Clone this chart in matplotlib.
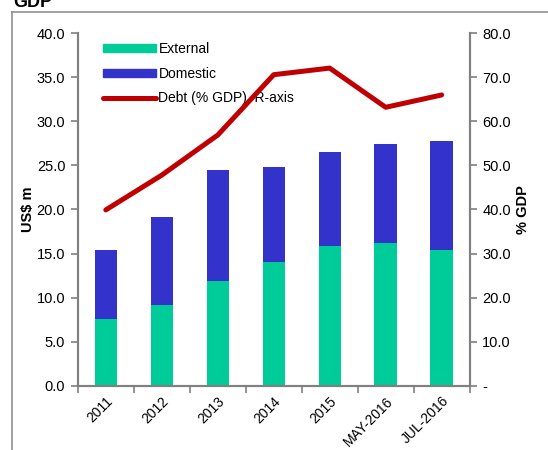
import matplotlib
matplotlib.use("Agg")
import matplotlib.pyplot as plt
from matplotlib.lines import Line2D
from matplotlib.ticker import FuncFormatter

plt.rcParams['font.family'] = ['Liberation Sans', 'DejaVu Sans']

periods = ["2011", "2012", "2013", "2014", "2015", "MAY-2016", "JUL-2016"]
external = [7.6, 9.2, 11.9, 14.0, 15.8, 16.2, 15.4]
total = [15.4, 19.1, 24.5, 24.8, 26.5, 27.4, 27.8]
domestic = [t - e for t, e in zip(total, external)]
debt_gdp = [39.9, 47.8, 56.9, 70.6, 72.1, 63.2, 66.0]

grey = "#808080"

fig = plt.figure(figsize=(5.48, 4.5), dpi=100)
ax = fig.add_axes([0.142, 0.143, 0.715, 0.783])
ax2 = ax.twinx()

x = range(len(periods))
ax.bar(x, external, width=0.4, color="#00CC99", label="External", zorder=2)
ax.bar(x, domestic, width=0.4, bottom=external, color="#3333CC", label="Domestic", zorder=2)
ax2.plot(x, debt_gdp, color="#C00000", lw=3.6, solid_capstyle="round",
         label="Debt (% GDP), R-axis")

ax.set_xlim(-0.5, len(periods) - 0.5)
ax.set_ylim(0, 40)
ax2.set_ylim(0, 80)
ax.set_yticks(range(0, 41, 5))
ax2.set_yticks(range(0, 81, 10))
ax.yaxis.set_major_formatter(FuncFormatter(lambda v, p: f"{v:.1f}"))
ax2.yaxis.set_major_formatter(FuncFormatter(lambda v, p: "-" if v == 0 else f"{v:.1f}"))

# category labels in the middle, tick marks on the boundaries
ax.set_xticks([i - 0.5 for i in range(len(periods) + 1)])
ax.set_xticklabels([])
ax.set_xticks(list(x), minor=True)
ax.set_xticklabels(periods, minor=True, rotation=45, ha="right", rotation_mode="anchor",
                   fontsize=10)
ax.tick_params(axis="x", which="minor", length=0, pad=6)
ax.tick_params(axis="x", which="major", length=5, color=grey, width=1.2, direction="out")
ax.tick_params(axis="y", length=5, color=grey, width=1.2, labelsize=10.5, pad=4)
ax2.tick_params(axis="y", length=5, color=grey, width=1.2, labelsize=10.5, pad=4)

for a in (ax, ax2):
    a.spines["top"].set_visible(False)
    for s in ("left", "right", "bottom"):
        a.spines[s].set_color(grey)
        a.spines[s].set_linewidth(1.5)

ax.set_ylabel("US$ m", fontweight="bold", fontsize=10.5, labelpad=1)
ax2.set_ylabel("% GDP", fontweight="bold", fontsize=10.5, labelpad=4)

handles = [plt.Rectangle((0, 0), 1, 1, color="#00CC99"),
           plt.Rectangle((0, 0), 1, 1, color="#3333CC"),
           Line2D([], [], color="#C00000", lw=3.6, solid_capstyle="round")]
labels = ["External", "Domestic", "Debt (% GDP), R-axis"]
ax.legend(handles, labels, loc="upper left", bbox_to_anchor=(0.032, 1.01), frameon=False,
          fontsize=10, handlelength=3.8, handleheight=0.5, handletextpad=0.2,
          labelspacing=0.75)

# outer frame and clipped heading
fig.add_artist(Line2D([12 / 548, 12 / 548], [0, 1 - 12 / 450], color="#909090", lw=1.2))
fig.add_artist(Line2D([12 / 548, 1], [1 - 12 / 450, 1 - 12 / 450], color="#909090", lw=1.2))
fig.text(13 / 548, 1 - 7 / 450, "GDP", fontsize=13, fontweight="bold", va="baseline")

fig.savefig("out.png", dpi=100)
